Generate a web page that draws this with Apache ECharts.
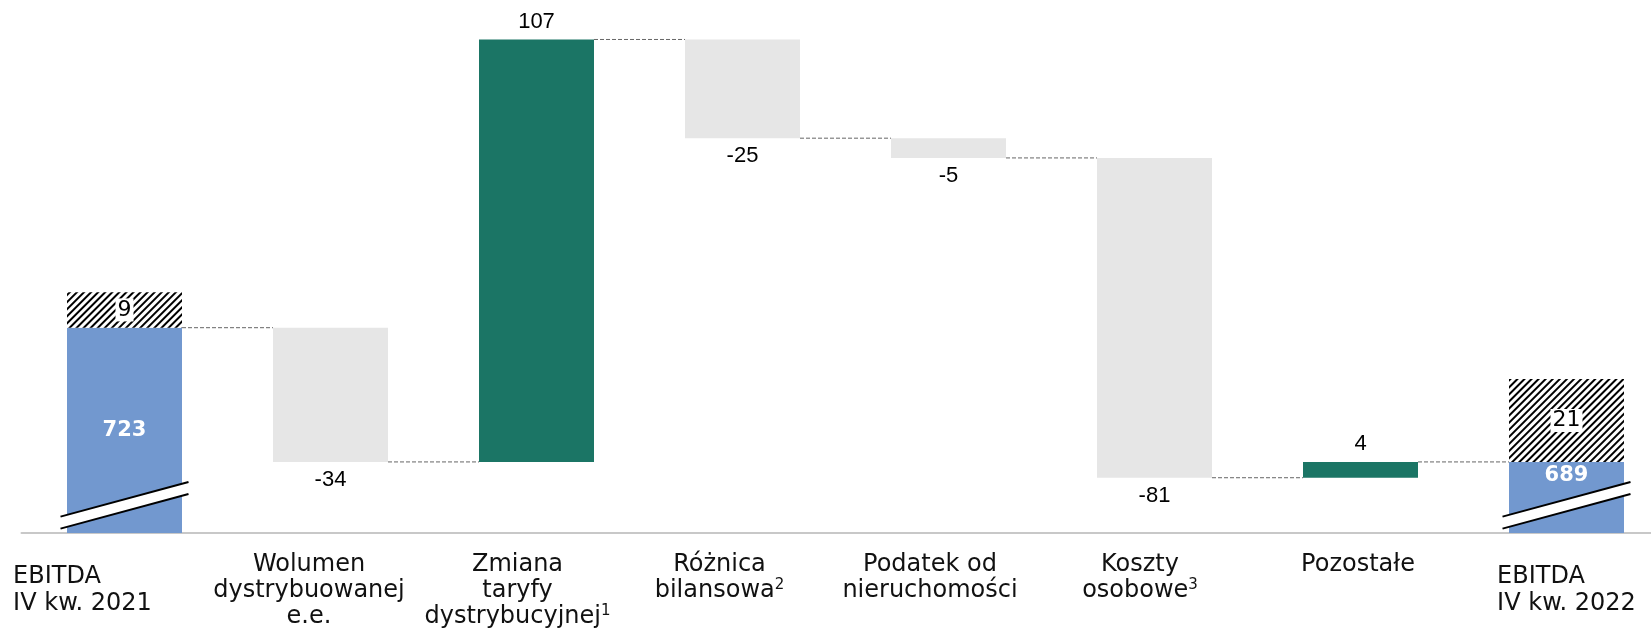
<!DOCTYPE html>
<html>
<head>
<meta charset="utf-8">
<script src="https://cdn.jsdelivr.net/npm/echarts@6/dist/echarts.min.js"></script>
<style>
    html, body { margin: 0; padding: 0; background: #fff; }
    #chart { width: 1651px; height: 630px; }
</style>
</head>
<body>
<div id="chart"></div>
<script>
    // --- data ---
    var categories = ['EBITDA\nIV kw. 2021', 'Wolumen\ndystrybuowanej\ne.e.', 'Zmiana\ntaryfy\ndystrybucyjnej',
        'Różnica\nbilansowa', 'Podatek od\nnieruchomości', 'Koszty\nosobowe', 'Pozostałe', 'EBITDA\nIV kw. 2022'];
    var footnotes = ['', '', '1', '2', '', '3', '', ''];
    var startValue = 723;
    var changes = [-34, 107, -25, -5, -81, 4];
    var endValue = 689;
    var hatchValues = [9, '-', '-', '-', '-', '-', '-', 21];

    var blue = '#7298cf', green = '#1b7565', grey = '#e6e6e6';
    var barW = 115;
    var breakAt = 678; // where the "//" axis break sits on the two EBITDA bars
    // nudges so the category texts sit like on the original slide
    var labelPadRight = [84, 43, 38, 46, 37, 29, 5, 0];
    var labelPadTop = [11, 0, 0, 0, 0, 0, 0, 11];

    var numFont = 'Liberation Sans, Arial, sans-serif';
    var txtFont = 'DejaVu Sans, Verdana, sans-serif';

    // waterfall: invisible base + visible part
    var baseData = [0], barData = [], levels = [startValue];
    barData.push({
        value: startValue,
        itemStyle: {color: blue},
        label: {show: true, position: 'inside', color: '#fff', fontWeight: 'bold', fontFamily: txtFont, fontSize: 21}
    });
    var run = startValue;
    changes.forEach(function (d) {
        var next = run + d;
        baseData.push(Math.min(run, next));
        barData.push({
            value: Math.abs(d),
            itemStyle: {color: d > 0 ? green : grey},
            label: {show: true, position: d > 0 ? 'top' : 'bottom', distance: 7, formatter: String(d),
                color: '#000', fontFamily: numFont, fontSize: 22}
        });
        run = next;
        levels.push(run);
    });
    levels.pop();
    levels.push(run);
    baseData.push(0);
    barData.push({
        value: endValue,
        itemStyle: {color: blue},
        label: {show: true, position: 'insideTop', distance: 3, color: '#fff', fontWeight: 'bold', fontFamily: txtFont, fontSize: 21}
    });

    var axisData = categories.map(function (c, i) {
        return {value: c, textStyle: {padding: [labelPadTop[i], labelPadRight[i], 0, 0]}};
    });

    var chart = echarts.init(document.getElementById('chart'));
    var option = {
        animation: false,
        grid: {left: 21.5, top: 0, width: 1648, height: 533, outerBoundsMode: 'none', containLabel: false},
        xAxis: {
            type: 'category',
            data: axisData,
            axisLine: {lineStyle: {color: '#c8c8c8', width: 2}},
            axisTick: {show: false},
            axisLabel: {
                interval: 0,
                margin: 19,
                hideOverlap: false,
                formatter: function (value, index) {
                    var lines = value.split('\n');
                    var tag = (index === 0 || index === categories.length - 1) ? 'l' : 't';
                    return lines.map(function (s, k) {
                        var out = '{' + tag + '|' + s + '}';
                        if (k === lines.length - 1 && footnotes[index]) {
                            out += '{sup|' + footnotes[index] + '}';
                        }
                        return out;
                    }).join('\n');
                },
                rich: {
                    t: {fontFamily: txtFont, fontSize: 24, lineHeight: 26, color: '#111'},
                    l: {fontFamily: txtFont, fontSize: 24, lineHeight: 27, color: '#111', align: 'left'},
                    sup: {fontFamily: txtFont, fontSize: 15, lineHeight: 14, color: '#111', verticalAlign: 'top'}
                }
            }
        },
        yAxis: {type: 'value', min: 671, max: 806, show: false},
        series: [
            {
                type: 'bar', stack: 'wf', barWidth: barW, silent: true,
                itemStyle: {color: 'transparent'},
                data: baseData
            },
            {
                type: 'bar', stack: 'wf', barWidth: barW, silent: true,
                data: barData
            },
            {
                type: 'bar', stack: 'wf', barWidth: barW, silent: true,
                itemStyle: {
                    color: '#fff',
                    decal: {
                        symbol: 'rect', symbolSize: 1,
                        dashArrayX: [1, 0], dashArrayY: [1.2, 2.1],
                        rotation: -Math.PI / 4,
                        color: '#000'
                    }
                },
                label: {
                    show: true, position: 'inside', color: '#000', fontFamily: txtFont, fontSize: 22,
                    backgroundColor: '#fff', padding: [1, 2, 0, 2]
                },
                data: hatchValues
            },
            {
                // dashed connectors between consecutive bars
                type: 'custom', silent: true, z: 1,
                data: levels.map(function (v, i) { return [i, v]; }),
                renderItem: function (params, api) {
                    var i = api.value(0), lvl = api.value(1);
                    var a = api.coord([i, lvl]), b = api.coord([i + 1, lvl]);
                    return {
                        type: 'line',
                        shape: {x1: a[0] + barW / 2, y1: a[1], x2: b[0] - barW / 2, y2: b[1]},
                        style: {stroke: '#666', lineWidth: 1, lineDash: [4, 2]}
                    };
                }
            },
            {
                // axis break marks on the EBITDA bars
                type: 'custom', silent: true, z: 5,
                data: [[0, breakAt], [categories.length - 1, breakAt]],
                renderItem: function (params, api) {
                    var c = api.coord([api.value(0), api.value(1)]);
                    var hw = 64, slope = 0.27, gap = 6;
                    var up = [[c[0] - hw, c[1] + hw * slope - gap], [c[0] + hw, c[1] - hw * slope - gap]];
                    var lo = [[c[0] - hw, c[1] + hw * slope + gap], [c[0] + hw, c[1] - hw * slope + gap]];
                    return {
                        type: 'group',
                        children: [
                            {type: 'polygon', shape: {points: [up[0], up[1], lo[1], lo[0]]}, style: {fill: '#fff'}},
                            {type: 'line', shape: {x1: up[0][0], y1: up[0][1], x2: up[1][0], y2: up[1][1]},
                                style: {stroke: '#000', lineWidth: 2}},
                            {type: 'line', shape: {x1: lo[0][0], y1: lo[0][1], x2: lo[1][0], y2: lo[1][1]},
                                style: {stroke: '#000', lineWidth: 2}}
                        ]
                    };
                }
            }
        ]
    };
    chart.setOption(option);
</script>
</body>
</html>
